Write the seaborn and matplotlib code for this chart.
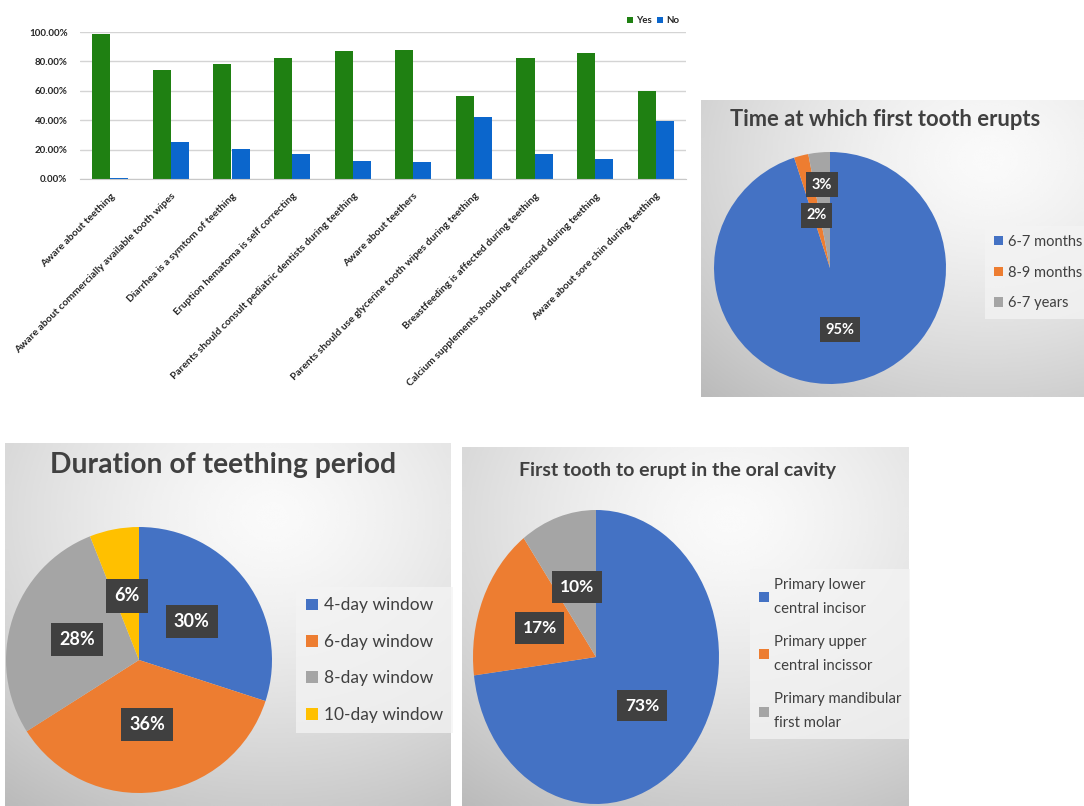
import numpy as np
import pandas as pd
import matplotlib
matplotlib.use("Agg")
import matplotlib.pyplot as plt
import seaborn as sns

sns.set_style("white")
plt.rcParams["font.family"] = ["Lato", "DejaVu Sans"]

# ---------------- data ----------------
statements = [
    "Aware about teething",
    "Aware about commercially available tooth wipes",
    "Diarrhea is a symtom of teething",
    "Eruption hematoma is self correcting",
    "Parents should consult pediatric dentists during teething",
    "Aware about teethers",
    "Parents should use glycerine tooth wipes during teething",
    "Breastfeeding is affected during teething",
    "Calcium supplements should be prescribed during teething",
    "Aware about sore chin during teething",
]
yes_pct = [98.6, 74.1, 78.4, 82.3, 87.0, 88.0, 56.4, 82.3, 85.5, 60.2]
no_pct = [0.8, 25.0, 20.7, 17.3, 12.0, 11.4, 42.5, 17.3, 13.9, 39.5]
responses = ["Yes", "No"]
y_ticks = [0, 20, 40, 60, 80, 100]

erupt_title = "Time at which first tooth erupts"
erupt_labels = ["6-7 months", "8-9 months", "6-7 years"]
erupt_vals = [95, 2, 3]

duration_title = "Duration of teething period"
duration_labels = ["4-day window", "6-day window", "8-day window", "10-day window"]
duration_vals = [30, 36, 28, 6]

tooth_title = "First tooth to erupt in the oral cavity"
tooth_labels = ["Primary lower\ncentral incisor", "Primary upper\ncentral incissor",
                "Primary mandibular\nfirst molar"]
tooth_vals = [73, 17, 10]

# ---------------- styling ----------------
W, H = 1084, 806
GREEN, BLUE = "#1f8012", "#0b66cc"
OFFICE = ["#4472C4", "#ED7D31", "#A5A5A5", "#FFC000"]
TXT = "#404040"

fig = plt.figure(figsize=(W / 100, H / 100), dpi=100)
fig.patch.set_facecolor("white")


def rect(x0, y0, x1, y1):
    return [x0 / W, 1 - y1 / H, (x1 - x0) / W, (y1 - y0) / H]


# ---------------- bar chart ----------------
df = pd.DataFrame({
    "Statement": statements * 2,
    "Percent": yes_pct + no_pct,
    "Response": ["Yes"] * len(statements) + ["No"] * len(statements),
})
axb = fig.add_axes(rect(80, 32, 686, 179))
sns.barplot(data=df, x="Statement", y="Percent", hue="Response", hue_order=responses,
            palette=[GREEN, BLUE], saturation=1, width=0.6, gap=0, linewidth=0,
            ax=axb)
axb.set_ylim(0, 100)
axb.set_xlim(-0.5, len(statements) - 0.5)
axb.set_yticks(y_ticks)
axb.set_yticklabels([f"{v:.2f}%" for v in y_ticks], fontsize=7, fontweight="bold",
                    color="#262626")
axb.set_xticks(range(len(statements)))
axb.set_xticklabels(statements, rotation=45, ha="right", rotation_mode="anchor",
                    fontsize=7.4, fontweight="bold", color="#262626")
axb.tick_params(axis="both", length=0)
axb.tick_params(axis="x", pad=9)
axb.tick_params(axis="y", pad=9)
axb.set_xlabel("")
axb.set_ylabel("")
axb.yaxis.grid(True, color="#d4d4d4", linewidth=1)
axb.set_axisbelow(True)
for s in ["top", "right", "left"]:
    axb.spines[s].set_visible(False)
axb.spines["bottom"].set_color("#c8c8c8")
handles, labels = axb.get_legend_handles_labels()
axb.legend(handles, labels, loc="lower right", bbox_to_anchor=(0.995, 1.02), ncol=2,
           frameon=False, handlelength=0.6, handleheight=0.6, handletextpad=0.3,
           columnspacing=0.6, borderaxespad=0,
           prop={"size": 7, "weight": "bold"})


# ---------------- pie panels ----------------
def panel_bg(r, cx, cy):
    ax = fig.add_axes(r)
    ax.axis("off")
    yy, xx = np.mgrid[0:1:200j, 0:1:200j]
    d = np.sqrt((xx - cx) ** 2 + (yy - cy) ** 2)
    d = d / d.max()
    img = 0.98 - 0.25 * d ** 1.4
    ax.imshow(img, cmap="gray", vmin=0, vmax=1, extent=[0, 1, 0, 1],
              aspect="auto", origin="upper", interpolation="bicubic")
    ax.set_xlim(0, 1)
    ax.set_ylim(0, 1)
    return ax


def draw_pie(r, vals, fontsize, dists, pad):
    ax = fig.add_axes(r)
    wedges, _, autotexts = ax.pie(
        vals, colors=OFFICE[:len(vals)], startangle=90, counterclock=False,
        autopct=lambda p: f"{p:.0f}%", wedgeprops=dict(linewidth=0),
        textprops=dict(color="white", fontsize=fontsize, fontweight="bold"))
    for w, t, dd in zip(wedges, autotexts, dists):
        th = np.deg2rad((w.theta1 + w.theta2) / 2)
        t.set_position((dd * np.cos(th), dd * np.sin(th)))
        t.set_ha("center")
        t.set_va("center")
        t.set_bbox(dict(boxstyle=f"square,pad={pad}", fc="#404040", ec="none"))
    ax.set_xlim(-1, 1)
    ax.set_ylim(-1, 1)
    ax.set_aspect("auto")
    ax.axis("off")
    return ax, wedges


def pie_legend(ax, wedges, labels, x, y, fontsize, spacing, linesp=1.2):
    leg = ax.legend(wedges, labels, loc="upper left", bbox_to_anchor=(x / W, 1 - y / H),
                    bbox_transform=fig.transFigure, frameon=True, facecolor="#f4f4f4",
                    edgecolor="none", framealpha=0.75, fancybox=False,
                    handlelength=0.65, handleheight=0.65, handletextpad=0.35,
                    labelspacing=spacing, borderpad=0.6, borderaxespad=0,
                    prop={"size": fontsize})
    for t in leg.get_texts():
        t.set_color(TXT)
        t.set_linespacing(linesp)
    return leg


# top-right: time of first tooth eruption
bg1 = panel_bg(rect(701, 100, 1084, 397), 0.75, 0.2)
bg1.text(0.48, 0.935, erupt_title, transform=bg1.transAxes, ha="center", va="center",
         fontsize=15.8, fontweight="bold", color=TXT)
ax1, w1 = draw_pie(rect(714, 152, 946, 384), erupt_vals, 10.5, [0.54, 0.47, 0.72], 0.38)
pie_legend(ax1, w1, erupt_labels, 985, 226, 10.5, 1.15)

# bottom-left: duration of teething period
bg2 = panel_bg(rect(5, 443, 451, 806), 0.6, 0.2)
bg2.text(0.49, 0.94, duration_title, transform=bg2.transAxes, ha="center", va="center",
         fontsize=20.3, fontweight="bold", color=TXT)
ax2, w2 = draw_pie(rect(6, 527, 272, 793), duration_vals, 13, [0.49] * 4, 0.45)
pie_legend(ax2, w2, duration_labels, 296, 587, 12.5, 1.18)

# bottom-right: first tooth to erupt
bg3 = panel_bg(rect(462, 447, 909, 806), 0.6, 0.2)
bg3.text(0.483, 0.935, tooth_title, transform=bg3.transAxes, ha="center", va="center",
         fontsize=14, fontweight="bold", color=TXT)
ax3, w3 = draw_pie(rect(473, 510, 719, 804), tooth_vals, 12.5, [0.5] * 3, 0.45)
pie_legend(ax3, w3, tooth_labels, 750, 569, 10.7, 1.3, linesp=1.9)

fig.savefig("out.png", dpi=100, facecolor="white")
